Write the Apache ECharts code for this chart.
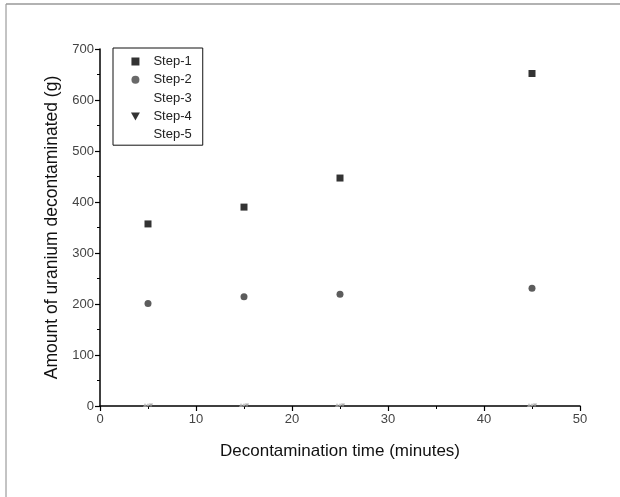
<!DOCTYPE html>
<html>
<head>
<meta charset="utf-8">
<script src="https://cdn.jsdelivr.net/npm/echarts@6/dist/echarts.min.js"></script>
<style>
html,body{margin:0;padding:0;background:#fff;}
#c{width:620px;height:497px;}
</style>
</head>
<body>
<div id="c"></div>
<script>
const times = [5, 15, 25, 45];
const step1 = [357, 390, 447, 652];
const step2 = [201, 214, 219, 231];
const step3 = [2, 2, 2, 2];
const step4 = [1, 1, 1, 1];
const step5 = [2, 2, 2, 2];
const seriesNames = ['Step-1', 'Step-2', 'Step-3', 'Step-4', 'Step-5'];
const xTicks = [0, 10, 20, 30, 40, 50];
const yTicks = [0, 100, 200, 300, 400, 500, 600, 700];

const pts = arr => times.map((t, i) => [t, arr[i]]);
const font = 'Liberation Sans, Arial, sans-serif';
const downTri = 'path://M0,0 L10,0 L5,9 Z';
const square = 'path://M0,0 L10,0 L10,10 L0,10 Z';

const chart = echarts.init(document.getElementById('c'));
chart.setOption({
  animation: false,
  backgroundColor: '#fff',
  textStyle: { fontFamily: font },
  graphic: [
    { type: 'line', shape: { x1: 6, y1: 4, x2: 6, y2: 497 }, style: { stroke: '#888', lineWidth: 1 } },
    { type: 'line', shape: { x1: 6, y1: 4, x2: 620, y2: 4 }, style: { stroke: '#999', lineWidth: 1.5 } }
  ],
  grid: { left: 100, right: 40, top: 49, bottom: 91 },
  legend: {
    orient: 'vertical',
    left: 113, top: 48,
    borderColor: '#111', borderWidth: 1,
    padding: [7, 11, 4, 18],
    itemWidth: 26, itemHeight: 8, itemGap: 5.3,
    symbolKeepAspect: true,
    textStyle: { fontFamily: font, fontSize: 13, color: '#222' },
    data: [
      { name: 'Step-1', icon: square, itemStyle: { color: '#000' } },
      { name: 'Step-2', icon: 'circle', itemStyle: { color: '#444' } },
      { name: 'Step-3', icon: square, itemStyle: { color: 'rgba(0,0,0,0)' } },
      { name: 'Step-4', icon: downTri, itemStyle: { color: '#000' } },
      { name: 'Step-5', icon: square, itemStyle: { color: 'rgba(0,0,0,0)' } }
    ]
  },
  xAxis: {
    type: 'value', min: 0, max: 50, interval: 10,
    name: 'Decontamination time (minutes)', nameLocation: 'middle', nameGap: 37,
    nameTextStyle: { fontFamily: font, fontSize: 17, color: '#111' },
    axisLine: { show: true, onZero: false, lineStyle: { color: '#000', width: 1.5 } },
    axisTick: { show: true, inside: false, length: 5, lineStyle: { color: '#000', width: 1.2 } },
    minorTick: { show: true, splitNumber: 2, length: 3, lineStyle: { color: '#000', width: 1 } },
    splitLine: { show: false },
    axisLabel: { fontFamily: font, fontSize: 13, color: '#444', margin: 7,
      formatter: v => xTicks.includes(v) ? String(v) : '' }
  },
  yAxis: {
    type: 'value', min: 0, max: 700, interval: 100,
    name: 'Amount of uranium decontaminated (g)', nameLocation: 'middle', nameGap: 39,
    nameTextStyle: { fontFamily: font, fontSize: 17.5, color: '#111' },
    axisLine: { show: true, lineStyle: { color: '#000', width: 1.5 } },
    axisTick: { show: true, inside: false, length: 5, lineStyle: { color: '#000', width: 1.2 } },
    minorTick: { show: true, splitNumber: 2, length: 3, lineStyle: { color: '#000', width: 1 } },
    splitLine: { show: false },
    axisLabel: { fontFamily: font, fontSize: 13, color: '#444', margin: 6,
      formatter: v => yTicks.includes(v) ? String(v) : '' }
  },
  series: [
    { name: seriesNames[0], type: 'scatter', symbol: 'rect', symbolSize: 7,
      itemStyle: { color: '#000' }, data: pts(step1) },
    { name: seriesNames[1], type: 'scatter', symbol: 'circle', symbolSize: 7,
      itemStyle: { color: '#333' }, data: pts(step2) },
    { name: seriesNames[2], type: 'scatter', symbol: 'triangle', symbolSize: 4,
      symbolOffset: [-3, 0], itemStyle: { color: '#aaa' }, data: pts(step3) },
    { name: seriesNames[3], type: 'scatter', symbol: downTri, symbolSize: 4,
      symbolOffset: [3, 0], itemStyle: { color: '#999' }, data: pts(step4) },
    { name: seriesNames[4], type: 'scatter', symbol: 'circle', symbolSize: 3,
      itemStyle: { color: '#bbb' }, data: pts(step5) }
  ]
});
</script>
</body>
</html>
